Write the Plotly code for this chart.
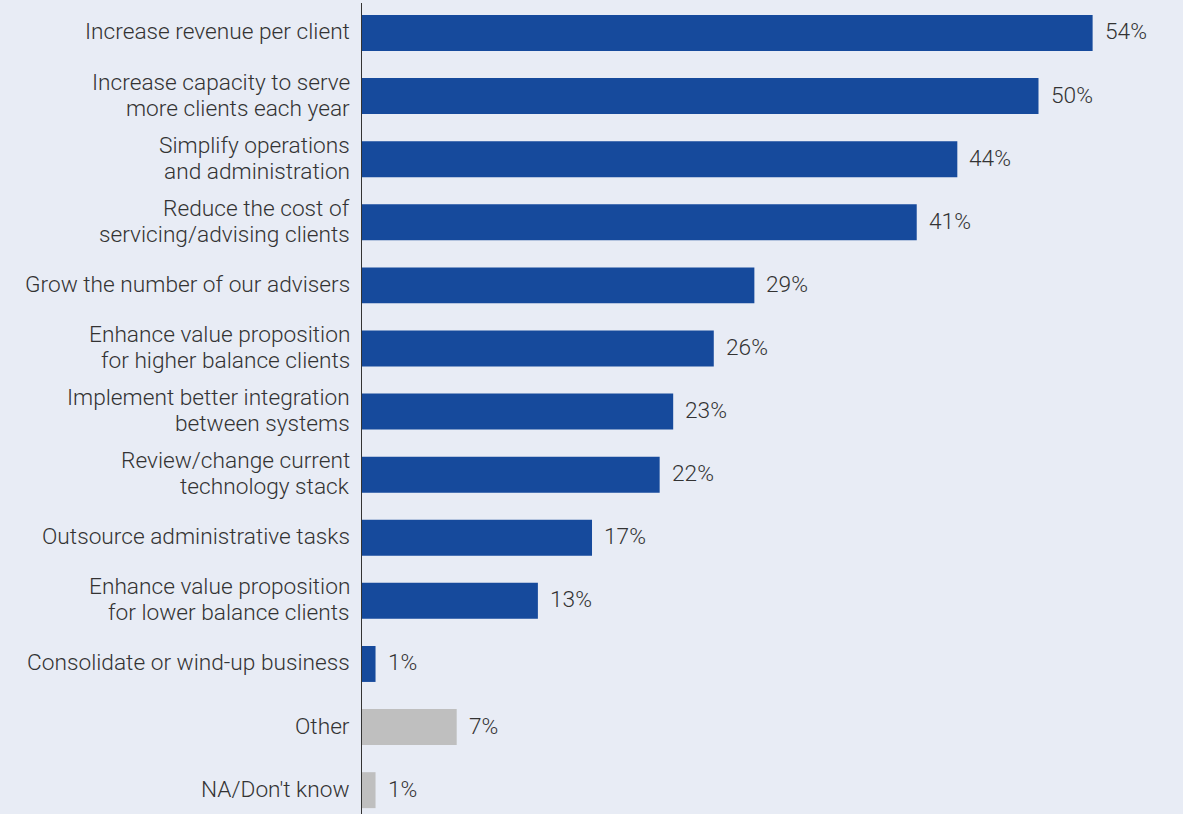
import plotly.graph_objects as go

categories = [
    "Increase revenue per client",
    "Increase capacity to serve<br>more clients each year",
    "Simplify operations<br>and administration",
    "Reduce the cost of<br>servicing/advising clients",
    "Grow the number of our advisers",
    "Enhance value proposition<br>for higher balance clients",
    "Implement better integration<br>between systems",
    "Review/change current<br>technology stack",
    "Outsource administrative tasks",
    "Enhance value proposition<br>for lower balance clients",
    "Consolidate or wind-up business",
    "Other",
    "NA/Don't know",
]
values = [54, 50, 44, 41, 29, 26, 23, 22, 17, 13, 1, 7, 1]
groups = ["main"] * 11 + ["other"] * 2

BLUE = "#164a9c"
GREY = "#bfbfbf"
BG = "#e8ecf5"
TEXT = "#333333"
FONT = dict(family="Roboto", size=22.7, color=TEXT, weight=300)
LINE_STEP = 26  # vertical distance between lines of a wrapped label

colors = [BLUE if g == "main" else GREY for g in groups]

fig = go.Figure(
    go.Bar(
        x=values,
        y=categories,
        orientation="h",
        marker=dict(color=colors, line=dict(width=0)),
        width=0.57,
        hoverinfo="skip",
    )
)

for cat, val in zip(categories, values):
    # value label just past the end of each bar
    fig.add_annotation(
        x=val, y=cat, text=f"{val}%", showarrow=False,
        xanchor="left", yanchor="middle", xshift=10, yshift=1,
        font=FONT,
    )
    # category label, one annotation per line, right-aligned left of the axis
    lines = cat.split("<br>")
    n = len(lines)
    for i, line in enumerate(lines):
        fig.add_annotation(
            x=0, y=cat, text=line, showarrow=False,
            xanchor="right", yanchor="middle", xshift=-11,
            yshift=(n - 1) * LINE_STEP / 2 - i * LINE_STEP + 1,
            borderpad=0, font=FONT,
        )

fig.update_layout(
    width=1183, height=814,
    margin=dict(l=362, r=0, t=3, b=0),
    paper_bgcolor=BG, plot_bgcolor=BG,
    showlegend=False,
    font=FONT,
    xaxis=dict(range=[0, 60.68], visible=False, fixedrange=True),
    yaxis=dict(
        categoryorder="array", categoryarray=categories,
        range=[12.378, -0.475],
        showline=True, linecolor="#333333", linewidth=1,
        showgrid=False, zeroline=False, ticks="",
        showticklabels=False,
    ),
)

fig.write_html("out.html")
